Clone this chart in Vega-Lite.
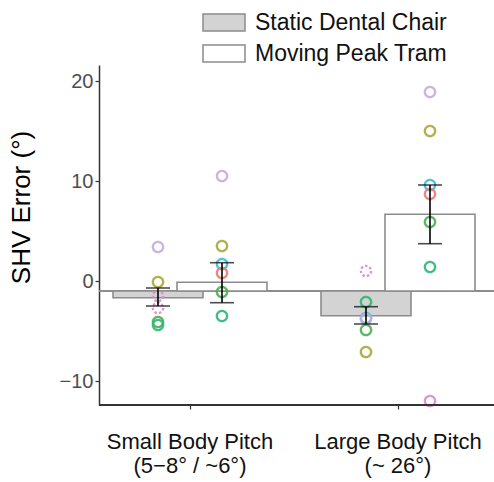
{
  "$schema": "https://vega.github.io/schema/vega-lite/v6.json",
  "width": 395,
  "height": 340,
  "autosize": {"type": "none"},
  "padding": {"left": 99, "top": 65, "right": 0, "bottom": 77},
  "background": "white",
  "config": {
    "view": {"stroke": null},
    "font": "Liberation Sans",
    "axis": {"grid": false}
  },
  "datasets": {
    "bars": [
      {"pitch": "Small Body Pitch (5−8° / ~6°)", "condition": "Static Dental Chair", "mean": -1.67, "lo": -2.5, "hi": -0.7},
      {"pitch": "Small Body Pitch (5−8° / ~6°)", "condition": "Moving Peak Tram", "mean": -0.13, "lo": -2.17, "hi": 1.83},
      {"pitch": "Large Body Pitch (~ 26°)", "condition": "Static Dental Chair", "mean": -3.47, "lo": -4.3, "hi": -2.57},
      {"pitch": "Large Body Pitch (~ 26°)", "condition": "Moving Peak Tram", "mean": 6.67, "lo": 3.73, "hi": 9.6}
    ],
    "points": [
      {"pitch": "Small Body Pitch (5−8° / ~6°)", "condition": "Static Dental Chair", "subject": "S1", "error": 3.4, "status": "included"},
      {"pitch": "Small Body Pitch (5−8° / ~6°)", "condition": "Static Dental Chair", "subject": "S2", "error": -0.1, "status": "included"},
      {"pitch": "Small Body Pitch (5−8° / ~6°)", "condition": "Static Dental Chair", "subject": "S7", "error": -1.5, "status": "excluded"},
      {"pitch": "Small Body Pitch (5−8° / ~6°)", "condition": "Static Dental Chair", "subject": "S7", "error": -2.7, "status": "excluded"},
      {"pitch": "Small Body Pitch (5−8° / ~6°)", "condition": "Static Dental Chair", "subject": "S5", "error": -4.1, "status": "included"},
      {"pitch": "Small Body Pitch (5−8° / ~6°)", "condition": "Static Dental Chair", "subject": "S6", "error": -4.4, "status": "included"},
      {"pitch": "Small Body Pitch (5−8° / ~6°)", "condition": "Moving Peak Tram", "subject": "S1", "error": 10.5, "status": "included"},
      {"pitch": "Small Body Pitch (5−8° / ~6°)", "condition": "Moving Peak Tram", "subject": "S2", "error": 3.5, "status": "included"},
      {"pitch": "Small Body Pitch (5−8° / ~6°)", "condition": "Moving Peak Tram", "subject": "S3", "error": 1.7, "status": "included"},
      {"pitch": "Small Body Pitch (5−8° / ~6°)", "condition": "Moving Peak Tram", "subject": "S4", "error": 0.8, "status": "included"},
      {"pitch": "Small Body Pitch (5−8° / ~6°)", "condition": "Moving Peak Tram", "subject": "S5", "error": -1.1, "status": "included"},
      {"pitch": "Small Body Pitch (5−8° / ~6°)", "condition": "Moving Peak Tram", "subject": "S6", "error": -3.5, "status": "included"},
      {"pitch": "Large Body Pitch (~ 26°)", "condition": "Static Dental Chair", "subject": "S7", "error": 1.0, "status": "excluded"},
      {"pitch": "Large Body Pitch (~ 26°)", "condition": "Static Dental Chair", "subject": "S6", "error": -2.1, "status": "included"},
      {"pitch": "Large Body Pitch (~ 26°)", "condition": "Static Dental Chair", "subject": "S3", "error": -3.7, "status": "included"},
      {"pitch": "Large Body Pitch (~ 26°)", "condition": "Static Dental Chair", "subject": "S1", "error": -3.8, "status": "included"},
      {"pitch": "Large Body Pitch (~ 26°)", "condition": "Static Dental Chair", "subject": "S5", "error": -4.9, "status": "included"},
      {"pitch": "Large Body Pitch (~ 26°)", "condition": "Static Dental Chair", "subject": "S2", "error": -7.1, "status": "included"},
      {"pitch": "Large Body Pitch (~ 26°)", "condition": "Moving Peak Tram", "subject": "S1", "error": 18.9, "status": "included"},
      {"pitch": "Large Body Pitch (~ 26°)", "condition": "Moving Peak Tram", "subject": "S2", "error": 15.0, "status": "included"},
      {"pitch": "Large Body Pitch (~ 26°)", "condition": "Moving Peak Tram", "subject": "S3", "error": 9.6, "status": "included"},
      {"pitch": "Large Body Pitch (~ 26°)", "condition": "Moving Peak Tram", "subject": "S4", "error": 8.7, "status": "included"},
      {"pitch": "Large Body Pitch (~ 26°)", "condition": "Moving Peak Tram", "subject": "S5", "error": 5.9, "status": "included"},
      {"pitch": "Large Body Pitch (~ 26°)", "condition": "Moving Peak Tram", "subject": "S6", "error": 1.4, "status": "included"},
      {"pitch": "Large Body Pitch (~ 26°)", "condition": "Moving Peak Tram", "subject": "S7", "error": -12.0, "status": "included"}
    ]
  },
  "encoding": {
    "x": {
      "field": "pitch",
      "type": "nominal",
      "sort": ["Small Body Pitch (5−8° / ~6°)", "Large Body Pitch (~ 26°)"],
      "scale": {"range": [-13, 403], "paddingInner": 0, "paddingOuter": 0},
      "axis": {
        "title": null,
        "domain": false,
        "labelAngle": 0,
        "labelFontSize": 22,
        "labelColor": "#111111",
        "labelLineHeight": 24,
        "labelPadding": 22,
        "labelLimit": 300,
        "tickSize": 4,
        "tickColor": "#333333",
        "tickWidth": 1.2,
        "labelExpr": "datum.value == 'Small Body Pitch (5−8° / ~6°)' ? ['Small Body Pitch', '(5−8° / ~6°)'] : ['Large Body Pitch', '(~ 26°)']"
      }
    },
    "xOffset": {
      "field": "condition",
      "type": "nominal",
      "sort": ["Static Dental Chair", "Moving Peak Tram"],
      "scale": {"range": [40, 168], "paddingInner": 0, "paddingOuter": 0}
    }
  },
  "layer": [
    {
      "data": {"name": "bars"},
      "mark": {"type": "rule", "color": "#8c8c8c", "strokeWidth": 1.5},
      "encoding": {"y": {"datum": -1, "type": "quantitative"}, "x": null, "xOffset": null}
    },
    {
      "data": {"name": "bars"},
      "mark": {"type": "bar", "width": 90, "stroke": "#8c8c8c", "strokeWidth": 1.6},
      "encoding": {
        "y": {
          "field": "mean",
          "type": "quantitative",
          "scale": {"domain": [-12.4, 21.6], "nice": false, "zero": false},
          "axis": {
            "title": "SHV Error (°)",
            "titleFontSize": 26,
            "titleFontWeight": "normal",
            "titleColor": "#000000",
            "titlePadding": 25,
            "titleY": 142,
            "values": [-10, 0, 10, 20],
            "labelFontSize": 20,
            "labelColor": "#4d4d4d",
            "labelPadding": 2,
            "tickSize": 4,
            "tickColor": "#333333",
            "tickWidth": 1.2,
            "domainColor": "#333333",
            "domainWidth": 1.5
          }
        },
        "y2": {"datum": -1},
        "fill": {
          "field": "condition",
          "type": "nominal",
          "sort": ["Static Dental Chair", "Moving Peak Tram"],
          "scale": {"domain": ["Static Dental Chair", "Moving Peak Tram"], "range": ["#d3d3d3", "#ffffff"]},
          "legend": {
            "title": null,
            "orient": "none",
            "legendX": 113.5,
            "legendY": -54,
            "symbolType": "M-2,-0.8H2V0.8H-2Z",
            "symbolSize": 441,
            "symbolStrokeColor": "#8c8c8c",
            "symbolStrokeWidth": 1.5,
            "labelFontSize": 23,
            "labelColor": "#111111",
            "labelLimit": 300,
            "labelOffset": 19.5,
            "rowPadding": 7,
            "padding": 0
          }
        }
      }
    },
    {
      "data": {"name": "points"},
      "mark": {"type": "point", "shape": "circle", "filled": false, "size": 105, "strokeWidth": 2.4, "opacity": 0.9},
      "encoding": {
        "y": {"field": "error", "type": "quantitative"},
        "stroke": {
          "field": "subject",
          "type": "nominal",
          "scale": {"domain": ["S1", "S2", "S3", "S4", "S5", "S6", "S7"], "range": ["#c4aedd", "#a9a93a", "#3fbcd8", "#ee7b73", "#4caf50", "#2eb67d", "#dd8acd"]},
          "legend": null
        },
        "strokeDash": {
          "field": "status",
          "type": "nominal",
          "scale": {"domain": ["included", "excluded"], "range": [[1, 0], [2.5, 2]]},
          "legend": null
        }
      }
    },
    {
      "data": {"name": "bars"},
      "mark": {"type": "rule", "color": "#000000", "strokeWidth": 1.6},
      "encoding": {"y": {"field": "lo", "type": "quantitative"}, "y2": {"field": "hi"}}
    },
    {
      "data": {"name": "bars"},
      "mark": {"type": "tick", "color": "#000000", "size": 24, "thickness": 1.6},
      "encoding": {"y": {"field": "lo", "type": "quantitative"}}
    },
    {
      "data": {"name": "bars"},
      "mark": {"type": "tick", "color": "#000000", "size": 24, "thickness": 1.6},
      "encoding": {"y": {"field": "hi", "type": "quantitative"}}
    },
    {
      "data": {"name": "bars"},
      "mark": {"type": "rule", "color": "#333333", "strokeWidth": 1.5},
      "encoding": {"y": {"datum": -12.4, "type": "quantitative"}, "x": null, "xOffset": null}
    }
  ]
}
